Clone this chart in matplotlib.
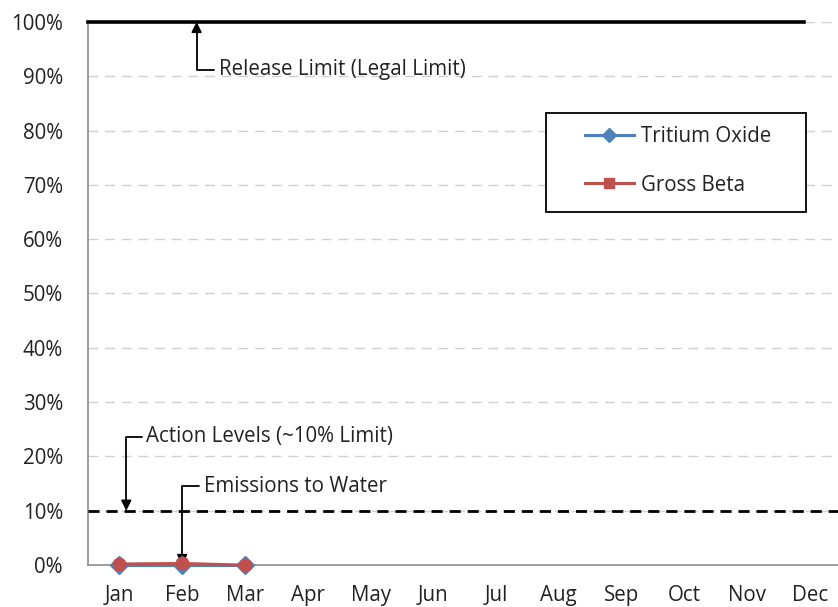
import matplotlib.pyplot as plt
from matplotlib.lines import Line2D
from matplotlib.patches import Rectangle

plt.rcParams['font.family'] = ['Open Sans', 'DejaVu Sans']

months = ['Jan', 'Feb', 'Mar', 'Apr', 'May', 'Jun', 'Jul', 'Aug', 'Sep', 'Oct', 'Nov', 'Dec']
tritium = [0.0, 0.0, 0.0]
gross_beta = [0.2, 0.3, 0.0]
release_limit = 100
action_level = 10
yticks = list(range(0, 101, 10))

fig = plt.figure(figsize=(8.38, 6.07), dpi=100)
ax = fig.add_axes([0.105, 0.069, 0.899, 0.895])

x = list(range(len(months)))

for t in yticks[1:]:
    ax.axhline(t, color='#d0d0d0', lw=1, dashes=(7, 5), zorder=0)

ax.plot([-0.5, 10.9], [release_limit] * 2, color='black', lw=2.6, zorder=3, clip_on=False)
ax.plot([-0.5, 11.5], [action_level] * 2, color='black', lw=2, dashes=(4, 2.5), zorder=3)

ax.plot(x[:len(tritium)], tritium, color='#4F81BD', marker='D', ms=9, lw=2.2,
        label='Tritium Oxide', zorder=4, clip_on=False)
ax.plot(x[:len(gross_beta)], gross_beta, color='#C0504D', marker='o', ms=9, lw=2.2,
        label='Gross Beta', zorder=5, clip_on=False)

fs = 14.8
arrow = dict(arrowstyle='-|>', color='black', lw=1.3, mutation_scale=15,
             connectionstyle='angle,angleA=180,angleB=90,rad=0',
             shrinkA=1, shrinkB=0, relpos=(0, 0.5))
ax.annotate('Release Limit (Legal Limit)', xy=(1.23, 100), xytext=(1.58, 91.2),
            ha='left', va='center', fontsize=fs, color='#222222', arrowprops=arrow)
ax.annotate('Action Levels (~10% Limit)', xy=(0.11, 10), xytext=(0.43, 23.6),
            ha='left', va='center', fontsize=fs, color='#222222', arrowprops=arrow)
ax.annotate('Emissions to Water', xy=(1.0, 0), xytext=(1.34, 14.5),
            ha='left', va='center', fontsize=fs, color='#222222', arrowprops=arrow)

ax.set_xlim(-0.5, 11.5)
ax.set_ylim(0, 100)
ax.set_xticks(x)
ax.set_xticklabels(months)
ax.set_yticks(yticks)
ax.set_yticklabels([f'{t}%' for t in yticks])
ax.tick_params(length=0, labelsize=fs, colors='#222222')
ax.tick_params(axis='x', pad=14)
ax.tick_params(axis='y', pad=18)

for side in ['top', 'right']:
    ax.spines[side].set_visible(False)
for side in ['left', 'bottom']:
    ax.spines[side].set_color('#8c8c8c')
    ax.spines[side].set_linewidth(1.2)

# legend box drawn separately so the padding matches the original
ax.add_patch(Rectangle((0.608, 0.650), 0.345, 0.182, transform=ax.transAxes,
                       facecolor='white', edgecolor='black', lw=1.3, zorder=6))
handles = [Line2D([], [], color='#4F81BD', marker='D', ms=7, lw=2.2),
           Line2D([], [], color='#C0504D', marker='s', ms=7, lw=2.2)]
leg = ax.legend(handles, ['Tritium Oxide', 'Gross Beta'], loc='center left',
                bbox_to_anchor=(0.660, 0.7445), frameon=False,
                fontsize=fs, handlelength=2.35, labelspacing=1.35,
                borderpad=0, handletextpad=0.35, borderaxespad=0)
leg.set_zorder(7)
for t in leg.get_texts():
    t.set_color('#222222')

fig.savefig('out.png', dpi=100)
